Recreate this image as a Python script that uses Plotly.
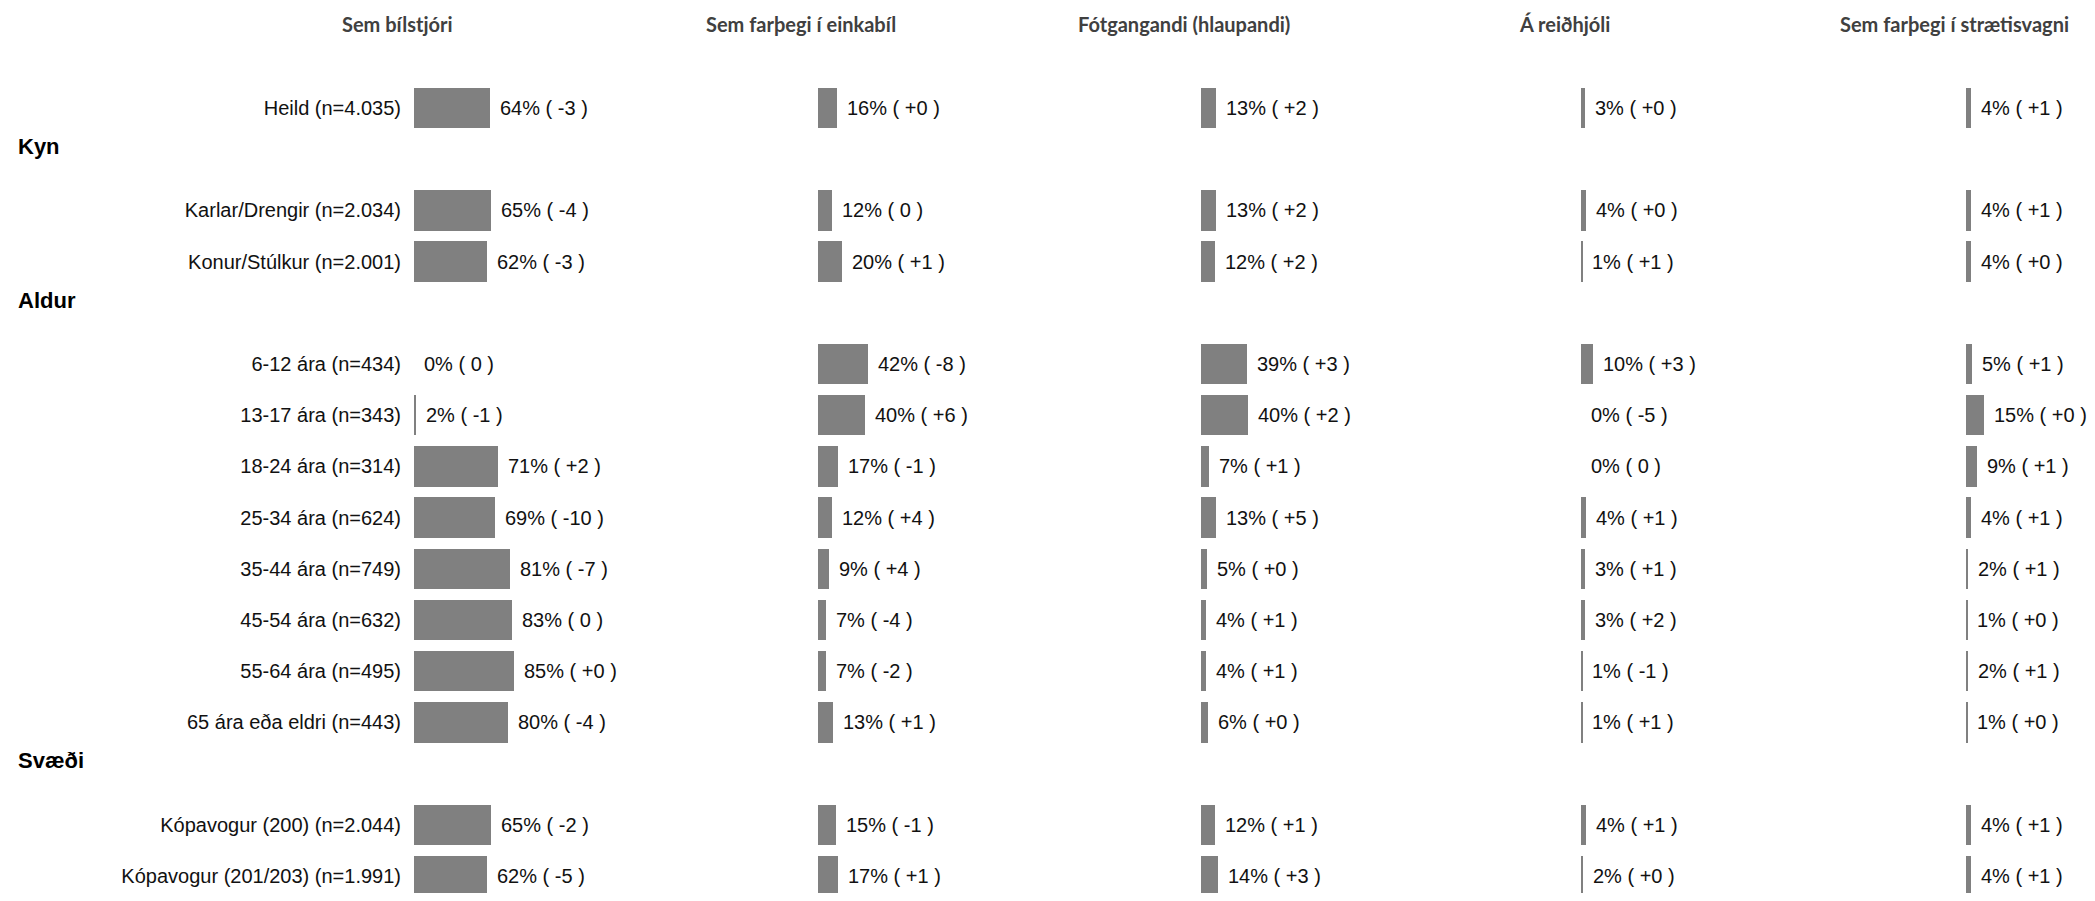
import plotly.graph_objects as go

# row labels per group
heild = ["Heild (n=4.035)"]
kyn = ["Karlar/Drengir (n=2.034)", "Konur/Stúlkur (n=2.001)"]
aldur = [
    "6-12 ára (n=434)", "13-17 ára (n=343)", "18-24 ára (n=314)", "25-34 ára (n=624)",
    "35-44 ára (n=749)", "45-54 ára (n=632)", "55-64 ára (n=495)", "65 ára eða eldri (n=443)",
]
svaedi = ["Kópavogur (200) (n=2.044)", "Kópavogur (201/203) (n=1.991)"]
group_names = ["Kyn", "Aldur", "Svæði"]

columns = [
    "Sem bílstjóri",
    "Sem farþegi í einkabíl",
    "Fótgangandi (hlaupandi)",
    "Á reiðhjóli",
    "Sem farþegi í strætisvagni",
]

# % share, rows in order heild, kyn, aldur, svaedi
bilstjori = [64, 65, 62, 0, 2, 71, 69, 81, 83, 85, 80, 65, 62]
bilstjori_chg = ["-3", "-4", "-3", "0", "-1", "+2", "-10", "-7", "0", "+0", "-4", "-2", "-5"]
einkabill = [16, 12, 20, 42, 40, 17, 12, 9, 7, 7, 13, 15, 17]
einkabill_chg = ["+0", "0", "+1", "-8", "+6", "-1", "+4", "+4", "-4", "-2", "+1", "-1", "+1"]
fotgangandi = [13, 13, 12, 39, 40, 7, 13, 5, 4, 4, 6, 12, 14]
fotgangandi_chg = ["+2", "+2", "+2", "+3", "+2", "+1", "+5", "+0", "+1", "+1", "+0", "+1", "+3"]
reidhjol = [3, 4, 1, 10, 0, 0, 4, 3, 3, 1, 1, 4, 2]
reidhjol_chg = ["+0", "+0", "+1", "+3", "-5", "0", "+1", "+1", "+2", "-1", "+1", "+1", "+0"]
straeto = [4, 4, 4, 5, 15, 9, 4, 2, 1, 2, 1, 4, 4]
straeto_chg = ["+1", "+1", "+0", "+1", "+0", "+1", "+1", "+1", "+0", "+1", "+0", "+1", "+1"]

values = [bilstjori, einkabill, fotgangandi, reidhjol, straeto]
changes = [bilstjori_chg, einkabill_chg, fotgangandi_chg, reidhjol_chg, straeto_chg]

# row slots: a blank slot before each group for its header
labels = list(heild)
pos = [0]
header_pos = []
slot = 0
for grp in [kyn, aldur, svaedi]:
    slot += 1
    header_pos.append(slot)
    for lab in grp:
        slot += 1
        labels.append(lab)
        pos.append(slot)

# page has an 8px body margin, so figure coords = page coords - 8
OFF = 8
W, H = 2095 - 2 * OFF, 901 - 2 * OFF
col_start = [p - OFF for p in [414, 818, 1201, 1581, 1966]]
col_end = col_start[1:] + [W]
px_per_pct = 1.18
row_px = 51.2
top_px = 108 - OFF

fig = go.Figure()
annotations = []
layout = {}
for i, (name, vals, chg) in enumerate(zip(columns, values, changes)):
    ax = "x" if i == 0 else f"x{i + 1}"
    fig.add_trace(go.Bar(
        x=vals, y=pos, orientation="h", xaxis=ax, yaxis="y",
        marker=dict(color="#808080", line=dict(width=0)),
        width=0.79, showlegend=False, hoverinfo="skip",
    ))
    key = "xaxis" if i == 0 else f"xaxis{i + 1}"
    layout[key] = dict(
        domain=[col_start[i] / W, col_end[i] / W],
        range=[0, (col_end[i] - col_start[i]) / px_per_pct],
        visible=False, fixedrange=True, anchor="y",
    )
    for v, c, p in zip(vals, chg, pos):
        annotations.append(dict(
            x=v, y=p, xref=ax, yref="y", text=f"{v}% ( {c} )",
            showarrow=False, xanchor="left", yanchor="middle", xshift=8,
            font=dict(family="Liberation Sans, Arial", size=20, color="#111111"),
        ))
    annotations.append(dict(
        x=0, xref=f"{ax} domain", xshift=-17 + (5 if i == 4 else 0),
        y=1 - (24 - OFF) / H, yref="paper",
        text=f"<b>{name}</b>", showarrow=False, xanchor="center", yanchor="middle",
        font=dict(family="Lato, Open Sans", size=20, color="#404040"),
    ))

for g, hp in zip(group_names, header_pos):
    annotations.append(dict(
        x=(16 - OFF) / W, xref="paper", y=hp - 0.25, yref="y", text=f"<b>{g}</b>",
        showarrow=False, xanchor="left", yanchor="middle",
        font=dict(family="Liberation Sans, Arial", size=22, color="#000000"),
    ))

y_top = -top_px / row_px
y_bot = (H - top_px) / row_px
fig.update_layout(
    **layout,
    yaxis=dict(
        domain=[0, 1], range=[y_bot, y_top], tickvals=pos, ticktext=labels,
        showgrid=False, zeroline=False, showline=False, ticks="",
        ticklabelstandoff=12, fixedrange=True, anchor="x",
        tickfont=dict(family="Liberation Sans, Arial", size=20, color="#111111"),
    ),
    annotations=annotations,
    width=W, height=H,
    margin=dict(l=0, r=0, t=0, b=0),
    paper_bgcolor="white", plot_bgcolor="white",
    bargap=0,
)

fig.write_html("out.html")
